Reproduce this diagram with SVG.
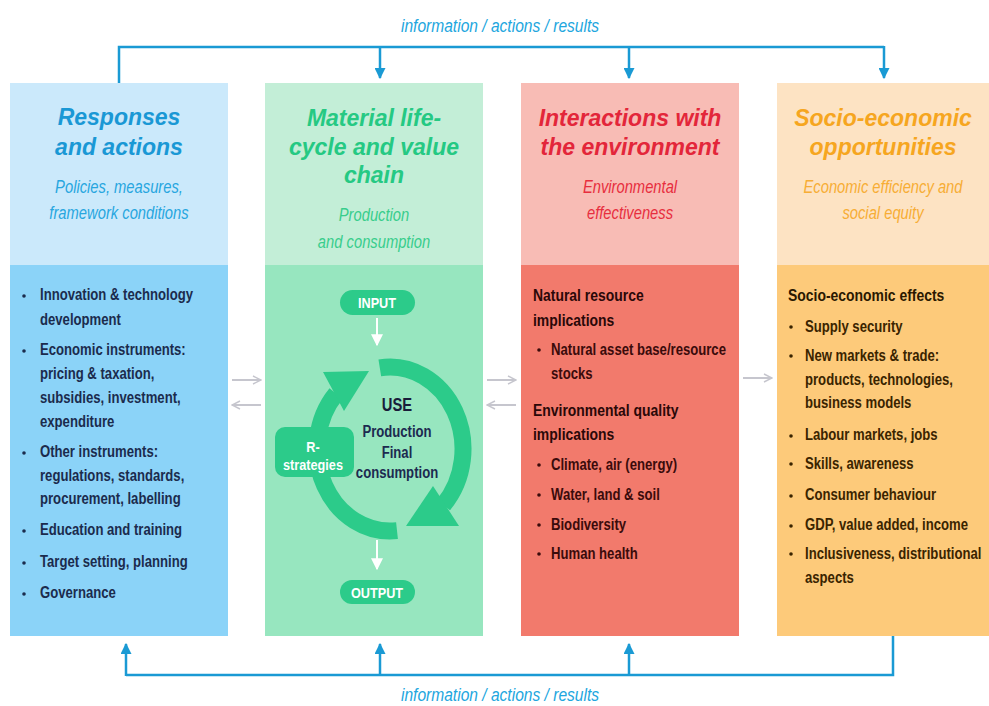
<svg xmlns="http://www.w3.org/2000/svg" width="989" height="706" viewBox="0 0 989 706">
<defs>
<style>
text{font-family:"Liberation Sans",Arial,sans-serif}
.title{font-weight:bold;font-style:italic;font-size:23px;text-anchor:middle}
.sub{font-style:italic;font-size:18px;text-anchor:middle}
.info{font-style:italic;font-size:19px;text-anchor:middle;fill:#22a6de}
.item{font-size:16px;font-weight:bold}
.head{font-size:17px;font-weight:bold}
.pill{font-size:15.5px;font-weight:bold;fill:#ffffff;text-anchor:middle}
.blue{stroke:#1a9ad4;stroke-width:2.5;fill:none}
.gray{stroke:#c6c6ce;stroke-width:2;fill:none}
.white{stroke:#ffffff;stroke-width:2;fill:none}
.ring{stroke:#2ccb8a;stroke-width:17;fill:none}
</style>
<marker id="mb" viewBox="0 0 10 10" refX="9" refY="5" markerWidth="4.4" markerHeight="4.4" orient="auto" markerUnits="strokeWidth">
<path d="M0,0 L10,5 L0,10 Z" fill="#1a9ad4"/>
</marker>
<marker id="mg" viewBox="0 0 10 10" refX="9" refY="5" markerWidth="5" markerHeight="5" orient="auto" markerUnits="strokeWidth">
<path d="M1,1 L9,5 L1,9" fill="none" stroke="#c6c6ce" stroke-width="1.4"/>
</marker>
<marker id="mw" viewBox="0 0 10 10" refX="9" refY="5" markerWidth="6" markerHeight="6" orient="auto" markerUnits="strokeWidth">
<path d="M0,0 L10,5 L0,10 Z" fill="#ffffff"/>
</marker>
</defs>
<rect width="989" height="706" fill="#ffffff"/>

<g id="col-responses">
<rect x="10" y="83" width="218" height="182" fill="#cbe9fb"/>
<rect x="10" y="265" width="218" height="371" fill="#8bd3f8"/>
<text class="title" fill="#1a98d5"><tspan x="119" y="125">Responses</tspan><tspan x="119" y="155">and actions</tspan></text>
<g transform="translate(119,0) scale(0.82,1)">
<text class="sub" fill="#27a6df"><tspan x="0" y="193">Policies, measures,</tspan><tspan x="0" y="219">framework conditions</tspan></text>
</g>
<g fill="#1b2b4d">
<circle cx="24" cy="296" r="1.8"/><circle cx="24" cy="351" r="1.8"/><circle cx="24" cy="453" r="1.8"/><circle cx="24" cy="531" r="1.8"/><circle cx="24" cy="563" r="1.8"/><circle cx="24" cy="594" r="1.8"/>
</g>
<g transform="translate(40,0) scale(0.82,1)">
<text class="item" fill="#1b2b4d">
<tspan x="0" y="300">Innovation &amp; technology</tspan>
<tspan x="0" y="325">development</tspan>
<tspan x="0" y="355">Economic instruments:</tspan>
<tspan x="0" y="379">pricing &amp; taxation,</tspan>
<tspan x="0" y="403">subsidies, investment,</tspan>
<tspan x="0" y="427">expenditure</tspan>
<tspan x="0" y="457">Other instruments:</tspan>
<tspan x="0" y="481">regulations, standards,</tspan>
<tspan x="0" y="504">procurement, labelling</tspan>
<tspan x="0" y="535">Education and training</tspan>
<tspan x="0" y="567">Target setting, planning</tspan>
<tspan x="0" y="598">Governance</tspan>
</text>
</g>
</g>

<g id="col-lifecycle">
<rect x="265" y="83" width="218" height="182" fill="#c3eed7"/>
<rect x="265" y="265" width="218" height="371" fill="#97e6bf"/>
<text class="title" fill="#25c983"><tspan x="374" y="126">Material life-</tspan><tspan x="374" y="155">cycle and value</tspan><tspan x="374" y="183">chain</tspan></text>
<g transform="translate(374,0) scale(0.82,1)">
<text class="sub" fill="#38cd8c"><tspan x="0" y="221">Production</tspan><tspan x="0" y="248">and consumption</tspan></text>
</g>
</g>

<g id="node-input">
<rect x="340" y="290" width="75" height="25" rx="12.5" fill="#2ccb8a"/>
<g transform="translate(377,0) scale(0.82,1)"><text class="pill" x="0" y="308">INPUT</text></g>
</g>
<g id="node-use">
<path class="ring" d="M379.8,367.8 A73,82 0 0 1 443.4,504.9"/>
<polygon points="433,486 459,526 406,526" fill="#2ccb8a"/>
<path class="ring" d="M397,530.6 A73,82 0 0 1 336.1,393.7"/>
<polygon points="323,372 344,411 369,371" fill="#2ccb8a"/>
<g transform="translate(397,0) scale(0.82,1)">
<text text-anchor="middle" fill="#1a1c3a" font-size="18" font-weight="bold" x="0" y="411">USE</text>
<text text-anchor="middle" fill="#1c2a50" font-size="16" font-weight="bold"><tspan x="0" y="437">Production</tspan><tspan x="0" y="458">Final</tspan><tspan x="0" y="478">consumption</tspan></text>
</g>
</g>
<g id="node-rstrategies">
<rect x="275" y="427" width="79" height="50" rx="10" fill="#2ccb8a"/>
<g transform="translate(313,0) scale(0.82,1)">
<text class="pill"><tspan x="0" y="452">R-</tspan><tspan x="0" y="470">strategies</tspan></text>
</g>
</g>
<g id="node-output">
<rect x="340" y="580" width="75" height="24" rx="12" fill="#2ccb8a"/>
<g transform="translate(377,0) scale(0.82,1)"><text class="pill" x="0" y="598">OUTPUT</text></g>
</g>

<g id="col-environment">
<rect x="521" y="83" width="218" height="182" fill="#f8bcb5"/>
<rect x="521" y="265" width="218" height="371" fill="#f27a6c"/>
<text class="title" fill="#e3263a"><tspan x="630" y="126">Interactions with</tspan><tspan x="630" y="155">the environment</tspan></text>
<g transform="translate(630,0) scale(0.82,1)">
<text class="sub" fill="#e72e3e"><tspan x="0" y="193">Environmental</tspan><tspan x="0" y="219">effectiveness</tspan></text>
</g>
<g transform="translate(533,0) scale(0.82,1)">
<text class="head" fill="#2a0808"><tspan x="0" y="301">Natural resource</tspan><tspan x="0" y="326">implications</tspan><tspan x="0" y="416">Environmental quality</tspan><tspan x="0" y="440">implications</tspan></text>
</g>
<g fill="#3a0b0b">
<circle cx="539" cy="350" r="1.8"/><circle cx="539" cy="465" r="1.8"/><circle cx="539" cy="495" r="1.8"/><circle cx="539" cy="525" r="1.8"/><circle cx="539" cy="554" r="1.8"/>
</g>
<g transform="translate(551,0) scale(0.82,1)">
<text class="item" fill="#3a0b0b">
<tspan x="0" y="355">Natural asset base/resource</tspan>
<tspan x="0" y="379">stocks</tspan>
<tspan x="0" y="470">Climate, air (energy)</tspan>
<tspan x="0" y="500">Water, land &amp; soil</tspan>
<tspan x="0" y="530">Biodiversity</tspan>
<tspan x="0" y="559">Human health</tspan>
</text>
</g>
</g>

<g id="col-socioeconomic">
<rect x="777" y="83" width="212" height="182" fill="#fde3c3"/>
<rect x="777" y="265" width="212" height="371" fill="#fdca7a"/>
<text class="title" fill="#f6a61f"><tspan x="883" y="126">Socio-economic</tspan><tspan x="883" y="155">opportunities</tspan></text>
<g transform="translate(883,0) scale(0.82,1)">
<text class="sub" fill="#f7ad35"><tspan x="0" y="193">Economic efficiency and</tspan><tspan x="0" y="219">social equity</tspan></text>
</g>
<g transform="translate(788,0) scale(0.82,1)">
<text class="head" fill="#2a1800" x="0" y="301">Socio-economic effects</text>
</g>
<g fill="#3a2400">
<circle cx="791" cy="327" r="1.8"/><circle cx="791" cy="356" r="1.8"/><circle cx="791" cy="436" r="1.8"/><circle cx="791" cy="464" r="1.8"/><circle cx="791" cy="496" r="1.8"/><circle cx="791" cy="526" r="1.8"/><circle cx="791" cy="554" r="1.8"/>
</g>
<g transform="translate(805,0) scale(0.82,1)">
<text class="item" fill="#3a2400">
<tspan x="0" y="332">Supply security</tspan>
<tspan x="0" y="361">New markets &amp; trade:</tspan>
<tspan x="0" y="385">products, technologies,</tspan>
<tspan x="0" y="408">business models</tspan>
<tspan x="0" y="440">Labour markets, jobs</tspan>
<tspan x="0" y="469">Skills, awareness</tspan>
<tspan x="0" y="500">Consumer behaviour</tspan>
<tspan x="0" y="530">GDP, value added, income</tspan>
<tspan x="0" y="559">Inclusiveness, distributional</tspan>
<tspan x="0" y="583">aspects</tspan>
</text>
</g>
</g>

<g id="connectors">
<g transform="translate(500,0) scale(0.82,1)">
<text class="info" x="0" y="32">information / actions / results</text>
<text class="info" x="0" y="701">information / actions / results</text>
</g>
<path class="blue" d="M119,83 V47 H884"/>
<line class="blue" x1="380" y1="47" x2="380" y2="78" marker-end="url(#mb)"/>
<line class="blue" x1="629" y1="47" x2="629" y2="78" marker-end="url(#mb)"/>
<line class="blue" x1="884" y1="46" x2="884" y2="78" marker-end="url(#mb)"/>
<path class="blue" d="M893,636 V675 H126"/>
<line class="blue" x1="126" y1="676" x2="126" y2="644" marker-end="url(#mb)"/>
<line class="blue" x1="380" y1="675" x2="380" y2="644" marker-end="url(#mb)"/>
<line class="blue" x1="629" y1="675" x2="629" y2="644" marker-end="url(#mb)"/>
<line class="gray" x1="232" y1="380" x2="261" y2="380" marker-end="url(#mg)"/>
<line class="gray" x1="261" y1="405" x2="232" y2="405" marker-end="url(#mg)"/>
<line class="gray" x1="487" y1="380" x2="516" y2="380" marker-end="url(#mg)"/>
<line class="gray" x1="516" y1="405" x2="487" y2="405" marker-end="url(#mg)"/>
<line class="gray" x1="743" y1="378" x2="772" y2="378" marker-end="url(#mg)"/>
<line class="white" x1="377" y1="318" x2="377" y2="345" marker-end="url(#mw)"/>
<line class="white" x1="377" y1="540" x2="377" y2="569" marker-end="url(#mw)"/>
</g>
</svg>
